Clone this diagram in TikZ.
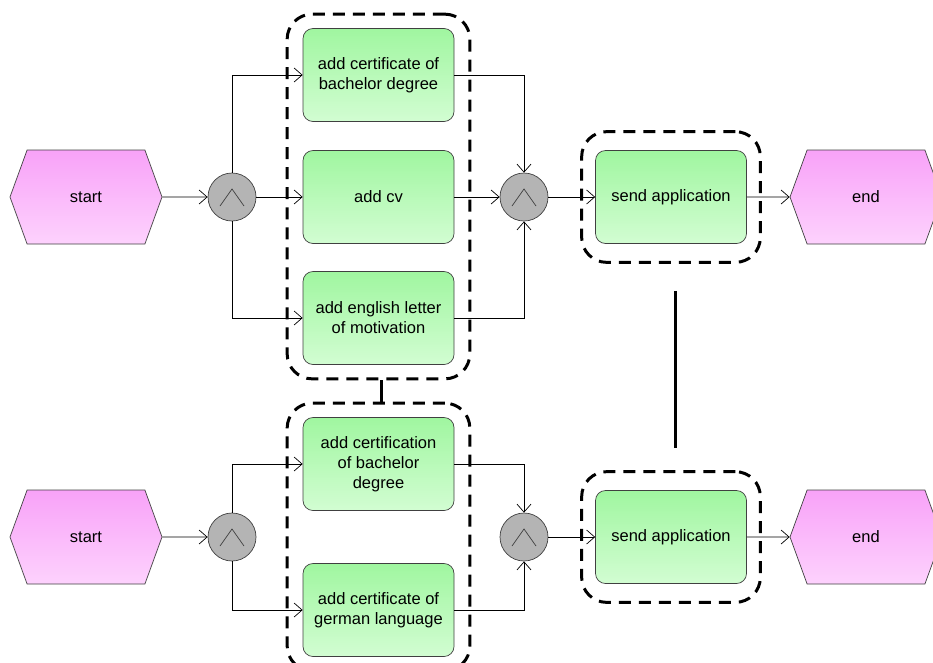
\documentclass[tikz,border=0pt]{standalone}
\usepackage{fontspec}
\setmainfont{Liberation Sans}
\usetikzlibrary{shapes.symbols,arrows.meta,fit,positioning}
\definecolor{evtop}{HTML}{F8A2F8}
\definecolor{evbot}{HTML}{FDD2FD}
\definecolor{fntop}{HTML}{A0F6A0}
\definecolor{fnbot}{HTML}{D2FDD2}
\definecolor{ruleln}{HTML}{404040}
\definecolor{andfill}{HTML}{B4B4B4}

\begin{document}
\begin{tikzpicture}[font=\fontsize{9.4}{11.4}\selectfont]
        \tikzstyle{event}=[signal, signal to=east and west, signal pointer angle=140, draw=ruleln, top color=evtop, bottom color=evbot, minimum width=3.04cm, minimum height=1.88cm, inner sep=0pt]
        \tikzstyle{func}=[rectangle, rounded corners=0.2cm, draw=ruleln, top color=fntop, bottom color=fnbot, minimum width=3.02cm, minimum height=1.86cm, align=center, inner sep=2pt]
        \tikzstyle{andop}=[circle, draw=ruleln, fill=andfill, minimum size=0.96cm, inner sep=0pt, path picture={\draw[ruleln] (path picture bounding box.center) ++(-0.24,-0.18) -- ++(0.24,0.34) -- ++(0.24,-0.34);}]
        \tikzstyle{flow}=[-{Straight Barb[length=1.6mm,width=2.8mm]}, black]
        \tikzstyle{group}=[draw, dashed, line width=1.7pt, dash pattern=on 0.24cm off 0.16cm, rounded corners=0.5cm]
        \useasboundingbox (0,0) rectangle (18.66,-13.24);
        % first process
        \node[event] (start1) at (1.72,-3.94) {start};
        \node[andop] (split1) at (4.64,-3.94) {};
        \node[func] (bachelor1) at (7.57,-1.50) {add certificate of\\bachelor degree};
        \node[func] (cv) at (7.57,-3.94) {add cv};
        \node[func] (motivation) at (7.57,-6.36) {add english letter\\of motivation};
        \node[andop] (join1) at (10.48,-3.94) {};
        \node[func] (send1) at (13.42,-3.94) {send application};
        \node[event] (end1) at (17.32,-3.94) {end};
        \draw[flow] (start1) -- (split1);
        \draw[flow] (split1.north) |- (bachelor1.west);
        \draw[flow] (split1) -- (cv);
        \draw[flow] (split1.south) |- (motivation.west);
        \draw[flow] (bachelor1.east) -| (join1.north);
        \draw[flow] (cv) -- (join1);
        \draw[flow] (motivation.east) -| (join1.south);
        \draw[flow] (join1) -- (send1);
        \draw[flow] (send1) -- (end1);
        % second process
        \node[event] (start2) at (1.72,-10.74) {start};
        \node[andop] (split2) at (4.64,-10.74) {};
        \node[func] (bachelor2) at (7.57,-9.28) {add certification\\of bachelor\\degree};
        \node[func] (german) at (7.57,-12.20) {add certificate of\\german language};
        \node[andop] (join2) at (10.48,-10.74) {};
        \node[func] (send2) at (13.42,-10.74) {send application};
        \node[event] (end2) at (17.32,-10.74) {end};
        \draw[flow] (start2) -- (split2);
        \draw[flow] (split2.north) |- (bachelor2.west);
        \draw[flow] (split2.south) |- (german.west);
        \draw[flow] (bachelor2.east) -| (join2.north);
        \draw[flow] (german.east) -| (join2.south);
        \draw[flow] (join2) -- (send2);
        \draw[flow] (send2) -- (end2);
        % groups
        \node[group, fit=(bachelor1) (motivation), inner xsep=0.31cm, inner ysep=0.28cm] (docs1) {};
        \node[group, fit=(bachelor2) (german), inner xsep=0.31cm, inner ysep=0.28cm] (docs2) {};
        \node[group, fit=(send1), inner xsep=0.27cm, inner ysep=0.37cm] (sendgrp1) {};
        \node[group, fit=(send2), inner xsep=0.27cm, inner ysep=0.37cm] (sendgrp2) {};
        \draw[line width=1.7pt] ([xshift=0.06cm]docs1.south) -- ([xshift=0.06cm]docs2.north);
        \draw[line width=1.7pt, shorten <=0.54cm, shorten >=0.44cm] ([xshift=0.08cm]sendgrp1.south) -- ([xshift=0.08cm]sendgrp2.north);
\end{tikzpicture}
\end{document}
